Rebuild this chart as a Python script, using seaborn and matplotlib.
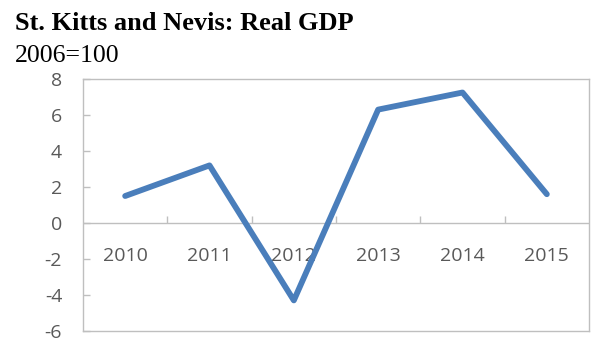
import matplotlib
matplotlib.use("Agg")
import matplotlib.pyplot as plt
import seaborn as sns
import pandas as pd
from matplotlib.ticker import FixedLocator, NullFormatter

# Real GDP growth series
years = ["2010", "2011", "2012", "2013", "2014", "2015"]
values = [1.5, 3.2, -4.3, 6.3, 7.25, 1.6]
y_ticks = [-6, -4, -2, 0, 2, 4, 6, 8]

title = "St. Kitts and Nevis: Real GDP"
subtitle = "2006=100"

df = pd.DataFrame({"pos": range(len(years)), "year": years, "value": values})

sns.set_theme(style="white")
plt.rcParams["font.family"] = ["Open Sans", "DejaVu Sans"]

fig = plt.figure(figsize=(5.94, 3.41), dpi=100)
ax = fig.add_axes([83 / 594, 1 - 331 / 341, (589 - 83) / 594, (331 - 79) / 341])

line_color = "#4A7EBB"
frame_color = "#BFBFBF"
label_color = "#595959"

sns.lineplot(data=df, x="pos", y="value", ax=ax, color=line_color,
             linewidth=4.2, solid_capstyle="round")

ax.set_xlim(-0.5, len(years) - 0.5)
ax.set_ylim(min(y_ticks), max(y_ticks))
ax.set_xlabel("")
ax.set_ylabel("")

# frame
for side in ["left", "right", "top", "bottom"]:
    ax.spines[side].set_visible(True)
    ax.spines[side].set_color(frame_color)
    ax.spines[side].set_linewidth(1.0)

# y axis: inward ticks on the left spine
ax.set_yticks(y_ticks)
ax.set_yticklabels([str(t) for t in y_ticks])
ax.tick_params(axis="y", which="major", direction="in", length=5, width=1.0,
               color=frame_color, labelcolor=label_color, labelsize=14, pad=15,
               left=True)

# hide the bottom x axis, categories go on the zero line instead
ax.tick_params(axis="x", which="both", bottom=False, labelbottom=False)

ax.axhline(0, color=frame_color, linewidth=1.0, zorder=1)

zero_frac = (0 - min(y_ticks)) / (max(y_ticks) - min(y_ticks))
sec = ax.secondary_xaxis(zero_frac)
sec.spines["bottom"].set_visible(False)
sec.set_xticks(range(len(years)))
sec.set_xticklabels(years)
sec.xaxis.set_minor_locator(FixedLocator([i + 0.5 for i in range(len(years) - 1)]))
sec.xaxis.set_minor_formatter(NullFormatter())
sec.tick_params(axis="x", which="major", length=0, pad=17,
                labelcolor=label_color, labelsize=14)
sec.tick_params(axis="x", which="minor", direction="in", length=5, width=1.0,
                color=frame_color)

fig.text(15 / 594, 1 - 30 / 341, title, family="Liberation Serif",
         fontweight="bold", fontsize=19, color="black", va="baseline", ha="left")
fig.text(15 / 594, 1 - 62 / 341, subtitle, family="Liberation Serif",
         fontsize=18.5, color="black", va="baseline", ha="left")

fig.savefig("out.png", dpi=100)
